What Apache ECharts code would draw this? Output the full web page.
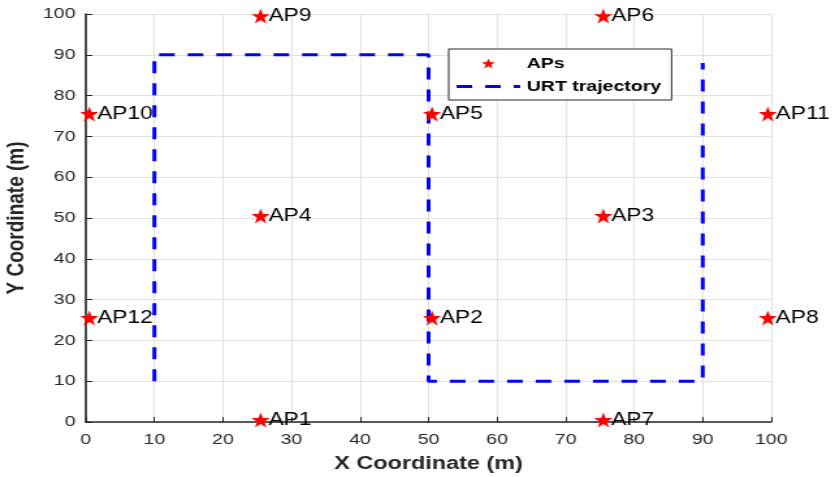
<!DOCTYPE html>
<html>
<head>
<meta charset="utf-8">
<script src="https://cdn.jsdelivr.net/npm/echarts@6/dist/echarts.min.js"></script>
<style>
  html, body { margin: 0; padding: 0; background: #fff; overflow: hidden; }
  /* the figure is drawn narrower and widened horizontally to its 835px frame */
  #chart { width: 642px; height: 477px; transform: scaleX(1.3006); transform-origin: 0 0; }
</style>
</head>
<body>
<div id="chart"></div>
<script>
// Access point locations (m)
const apNames = ['AP1', 'AP2', 'AP3', 'AP4', 'AP5', 'AP6', 'AP7', 'AP8', 'AP9', 'AP10', 'AP11', 'AP12'];
const apX = [25.5, 50.5, 75.5, 25.5, 50.5, 75.5, 75.5, 99.5, 25.5, 0.5, 99.5, 0.5];
const apY = [0.5, 25.5, 50.5, 50.5, 75.5, 99.5, 0.5, 25.5, 99.5, 75.5, 75.5, 25.5];

// URT trajectory corner points (m)
const trajX = [10, 10, 50, 50, 90, 90];
const trajY = [10, 90, 90, 10, 10, 88];

// Axis ticks
const xTicks = [0, 10, 20, 30, 40, 50, 60, 70, 80, 90, 100];
const yTicks = [0, 10, 20, 30, 40, 50, 60, 70, 80, 90, 100];

const starPath = 'path://M50,0 L62.5,35.5 L100,35.5 L70,58.5 L81,95 L50,73 L19,95 L30,58.5 L0,35.5 L37.5,35.5 Z';
const dashIcon = 'path://M0,0h12v3h-12z M22,0h12v3h-12z M44,0h5v3h-5z';
const font = 'Liberation Sans, Arial, sans-serif';

const chart = echarts.init(document.getElementById('chart'));
chart.setOption({
  backgroundColor: '#fff',
  animation: false,
  grid: { left: 66, right: 49, top: 14, bottom: 55, containLabel: false, outerBoundsMode: 'none' },
  legend: {
    orient: 'vertical',
    left: 345, top: 49,
    backgroundColor: '#fff',
    borderColor: '#262626', borderWidth: 1, borderRadius: 0,
    padding: [7, 8, 6, 6],
    itemGap: 8,
    itemWidth: 49, itemHeight: 10,
    textStyle: { fontFamily: font, fontWeight: 'bold', fontSize: 15, lineHeight: 12, color: '#000' },
    data: [
      { name: 'APs', icon: starPath, itemStyle: { color: '#ff0000', opacity: 1 } },
      { name: 'URT trajectory', icon: dashIcon, itemStyle: { color: '#0000ff', opacity: 1 } }
    ]
  },
  xAxis: {
    type: 'value', min: 0, max: 100, interval: 10,
    name: 'X Coordinate (m)', nameLocation: 'middle', nameGap: 33,
    nameTextStyle: { fontFamily: font, fontWeight: 'bold', fontSize: 18, color: '#262626' },
    axisLine: { show: true, lineStyle: { color: '#262626', width: 1.6 } },
    axisTick: { show: true, inside: true, length: 5, lineStyle: { color: '#262626' } },
    axisLabel: { fontFamily: font, fontSize: 15, color: '#262626', margin: 10,
      formatter: v => xTicks.includes(v) ? String(v) : '' },
    splitLine: { show: true, lineStyle: { color: '#e2e2e2', width: 1 } }
  },
  yAxis: {
    type: 'value', min: 0, max: 100, interval: 10,
    name: 'Y Coordinate (m)', nameLocation: 'middle', nameGap: 39,
    nameTextStyle: { fontFamily: font, fontWeight: 'bold', fontSize: 19, color: '#262626' },
    axisLine: { show: true, lineStyle: { color: '#262626', width: 1.6 } },
    axisTick: { show: true, inside: true, length: 5, lineStyle: { color: '#262626' } },
    axisLabel: { fontFamily: font, fontSize: 15, color: '#262626', margin: 8,
      formatter: v => yTicks.includes(v) ? String(v) : '' },
    splitLine: { show: true, lineStyle: { color: '#e2e2e2', width: 1 } }
  },
  series: [
    {
      name: 'URT trajectory',
      type: 'line',
      data: trajX.map((x, i) => [x, trajY[i]]),
      symbol: 'none',
      lineStyle: { color: '#0000ff', width: 3, type: [12, 10] },
      itemStyle: { color: '#0000ff' },
      z: 2
    },
    {
      name: 'APs',
      type: 'scatter',
      data: apX.map((x, i) => ({ value: [x, apY[i]], name: apNames[i] })),
      symbol: starPath,
      symbolSize: [14, 15],
      itemStyle: { color: '#ff0000', opacity: 1 },
      label: {
        show: true, position: 'right', distance: -1, opacity: 1,
        formatter: p => p.name,
        fontFamily: font, fontSize: 17.5, color: '#000'
      },
      z: 3
    }
  ]
});
</script>
</body>
</html>
